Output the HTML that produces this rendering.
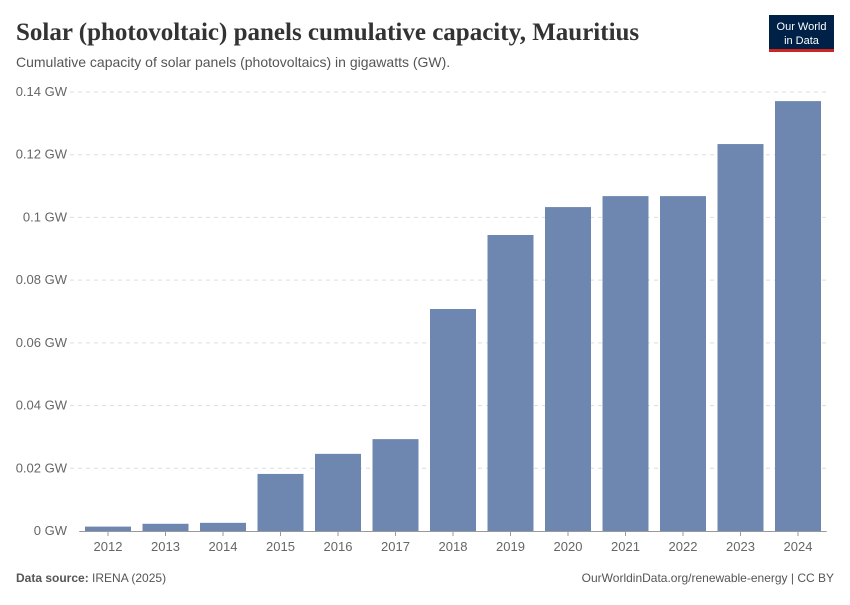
<!DOCTYPE html>
<html><head><meta charset="utf-8"><style>
body{margin:0;background:#fff;width:850px;height:600px;overflow:hidden;font-family:"Liberation Sans",sans-serif}
</style></head><body>
<svg width="850" height="600" xmlns="http://www.w3.org/2000/svg">
<text x="16" y="40" font-family="Liberation Serif" font-size="25" font-weight="bold" fill="#333">Solar (photovoltaic) panels cumulative capacity, Mauritius</text>
<text x="16" y="67" font-size="14" fill="#555">Cumulative capacity of solar panels (photovoltaics) in gigawatts (GW).</text>
<g>
<rect x="769" y="15" width="65" height="37" fill="#002147"/>
<rect x="769" y="49" width="65" height="3" fill="#ce261e"/>
<text x="801.5" y="30" font-size="11" fill="#fff" text-anchor="middle">Our World</text>
<text x="801.5" y="44" font-size="11" fill="#fff" text-anchor="middle">in Data</text>
</g>
<g id="grid"></g><g id="bars"></g><g id="xt"></g>
<text x="16" y="582" font-size="12" fill="#555"><tspan font-weight="bold">Data source:</tspan> IRENA (2025)</text>
<text x="834" y="582" font-size="12" fill="#555" text-anchor="end">OurWorldinData.org/renewable-energy | CC BY</text>
</svg>
<script>
const years=["2012","2013","2014","2015","2016","2017","2018","2019","2020","2021","2022","2023","2024"];
const values=[0.0014,0.0023,0.0026,0.0182,0.0246,0.0293,0.0708,0.0944,0.1033,0.1068,0.1068,0.1234,0.1371];
const ticks=[0,0.02,0.04,0.06,0.08,0.1,0.12,0.14];
const tickLabels=["0 GW","0.02 GW","0.04 GW","0.06 GW","0.08 GW","0.1 GW","0.12 GW","0.14 GW"];
const NS="http://www.w3.org/2000/svg";
const y0=531,y1=92,xl=79.25,xr=826.75;
const y=v=>y0-(v/0.14)*(y0-y1);
const step=(xr-xl)/years.length,bw=46;
function mk(t,a,p){const e=document.createElementNS(NS,t);for(const k in a)e.setAttribute(k,a[k]);p.appendChild(e);return e;}
const g=document.getElementById('grid');
ticks.forEach((t,i)=>{
 if(i>0){const l=mk('line',{x1:70,x2:xr,y1:y(t),y2:y(t),stroke:'#ddd','stroke-dasharray':'4,4'},g);
 
 }
 const tx=mk('text',{x:67,y:y(t)+4,'font-size':13,fill:'#666','text-anchor':'end'},g);
 tx.textContent=tickLabels[i];
 
 
});
const ax=mk('line',{x1:xl,x2:xr,y1:y0+0.5,y2:y0+0.5,stroke:'#999'},g);


const b=document.getElementById('bars'),xt=document.getElementById('xt');
years.forEach((yr,i)=>{
 const cx=xl+step*(i+0.5);
 const r=mk('rect',{x:cx-bw/2,y:y(values[i]),width:bw,height:y0-y(values[i]),fill:'#6d87b0'},b);
 
 
 mk('line',{x1:cx,x2:cx,y1:y0,y2:y0+5,stroke:'#999'},xt);
 const t=mk('text',{x:cx,y:551,'font-size':13,fill:'#666','text-anchor':'middle'},xt);
 t.textContent=yr;
 
 
});
</script>
</body></html>
